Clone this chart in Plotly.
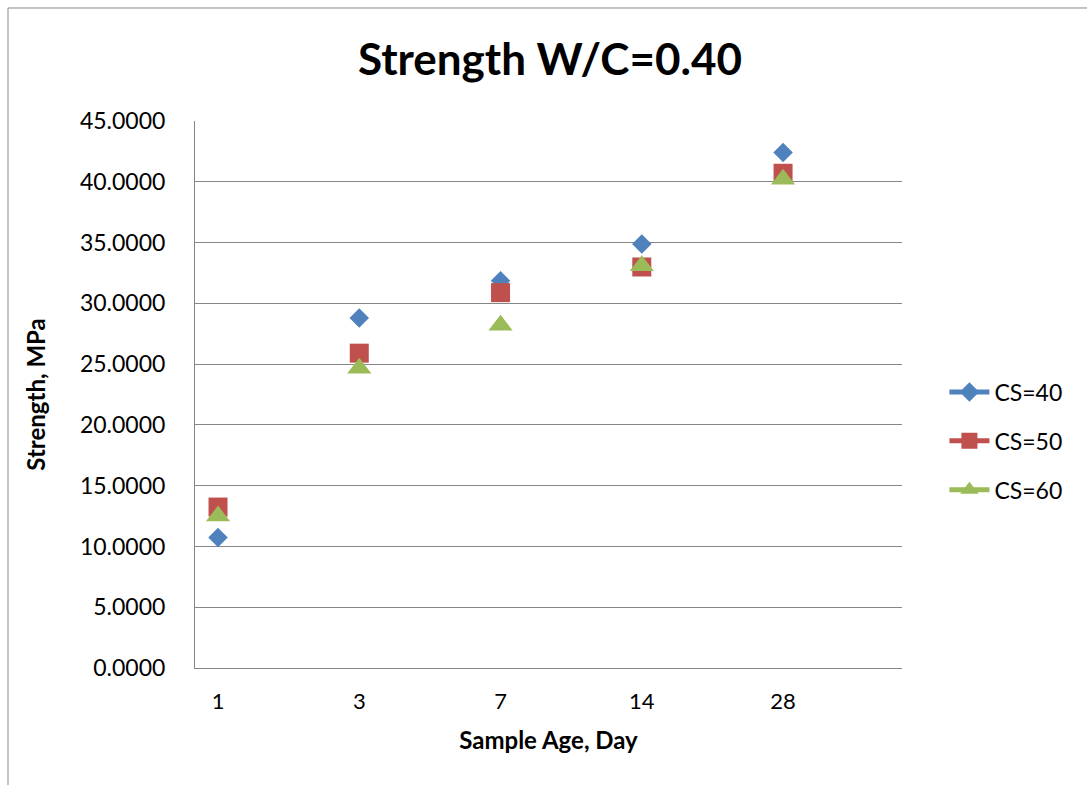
import plotly.graph_objects as go

# Compressive strength by sample age, W/C = 0.40
ages = ["1", "3", "7", "14", "28"]
cs40 = [10.74, 28.79, 31.85, 34.88, 42.40]
cs50 = [13.24, 25.90, 30.88, 32.99, 40.70]
cs60 = [12.50, 24.65, 28.20, 33.10, 40.20]

series = [
    ("CS=40", cs40, "#4F81BD", "diamond", 15),
    ("CS=50", cs50, "#C0504D", "square", 19),
    ("CS=60", cs60, "#9BBB59", "triangle-up", 21),
]

FONT = "Lato"
fig = go.Figure()

for i, (name, vals, color, symbol, size) in enumerate(series):
    # plotted points (markers only)
    fig.add_trace(go.Scatter(
        x=ages, y=vals, mode="markers", name=name,
        marker=dict(symbol=symbol, size=size, color=color, line=dict(width=0)),
        showlegend=False, legendgroup=name,
    ))
    # legend entry with line + marker
    fig.add_trace(go.Scatter(
        x=[None], y=[None], mode="lines+markers", name=name,
        line=dict(color=color, width=5),
        marker=dict(symbol=symbol, size=size, color=color, line=dict(width=0)),
        legendgroup=name, showlegend=True,
    ))

fig.update_layout(
    width=1087, height=785,
    margin=dict(l=195, r=185, t=121, b=117),
    paper_bgcolor="white", plot_bgcolor="white",
    font=dict(family=FONT, color="black"),
    title=dict(text="<b>Strength W/C=0.40</b>", x=0.506, xanchor="center",
               y=0.924, yanchor="middle", font=dict(size=44, family=FONT)),
    xaxis=dict(
        type="category", categoryorder="array", categoryarray=ages,
        range=[-0.163, 4.842], showgrid=False, zeroline=False,
        showline=True, linecolor="#868686", linewidth=1,
        ticks="", tickfont=dict(size=22), ticklabelstandoff=14,
        title=dict(text="<b>Sample Age, Day</b>", font=dict(size=24), standoff=18),
    ),
    yaxis=dict(
        range=[0, 45], tickvals=[0, 5, 10, 15, 20, 25, 30, 35, 40, 45],
        tickformat=".4f", showgrid=True, gridcolor="#868686", gridwidth=1,
        zeroline=False, showline=True, linecolor="#868686", linewidth=1,
        ticks="", tickfont=dict(size=23), ticklabelstandoff=24,
        title=dict(text="<b>Strength, MPa</b>", font=dict(size=24), standoff=27),
    ),
    legend=dict(
        x=1.06, y=0.415, xanchor="left", yanchor="middle",
        font=dict(size=23), tracegroupgap=16, itemwidth=40,
        bgcolor="rgba(0,0,0,0)",
    ),
    shapes=[dict(
        type="rect", xref="paper", yref="paper",
        x0=-0.2645, x1=1.27, y0=-0.23, y1=1.2066,
        line=dict(color="#898989", width=1), layer="below",
    )],
)

fig.write_html("out.html")
